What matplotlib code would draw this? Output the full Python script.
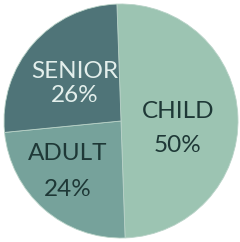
import matplotlib
matplotlib.use("Agg")
import matplotlib.pyplot as plt

# === data ===
categories = ["CHILD", "ADULT", "SENIOR"]
shares = [50, 24, 26]
colors = ["#9cc4b2", "#76a29b", "#4f7478"]
text_colors = ["#1e3836", "#1e3836", "#e3efec"]

# label line centres in pixels of the 240x242 picture (layout only)
name_px = [(178, 110), (68, 152), (75, 70)]
pct_px = [(178, 144), (68, 188), (75, 93)]

W, H = 240, 242
cx, cy, r = 121, 121, 117

fig = plt.figure(figsize=(W / 100, H / 100), dpi=100)
ax = fig.add_axes([0, 0, 1, 1])

ax.pie(shares, colors=colors, startangle=92, counterclock=False,
       radius=1.0, center=(0, 0),
       wedgeprops=dict(linewidth=0.6, edgecolor="#b9d3c8"))

def px2data(px, py):
    return (px - cx) / r, (cy - py) / r

for cat, val, tc, npx, ppx in zip(categories, shares, text_colors, name_px, pct_px):
    x, y = px2data(*npx)
    ax.text(x, y, cat, ha="center", va="center_baseline",
            fontsize=17.5, color=tc, family="Lato")
    x, y = px2data(*ppx)
    ax.text(x, y, f"{val}%", ha="center", va="center_baseline",
            fontsize=17.5, color=tc, family="Lato")

ax.set_xlim(-cx / r, (W - cx) / r)
ax.set_ylim(-(H - cy) / r, cy / r)
ax.set_aspect("equal")
ax.axis("off")

fig.savefig("out.png", dpi=100)
